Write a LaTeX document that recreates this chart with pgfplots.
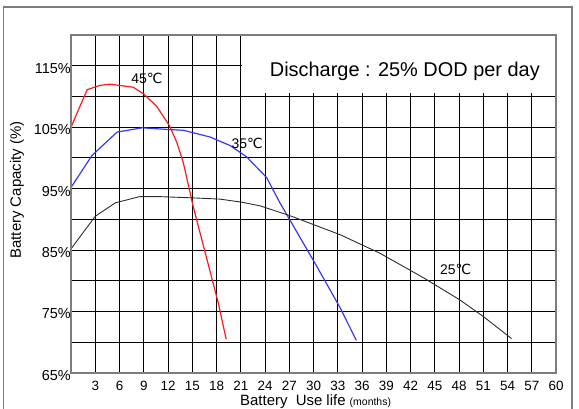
\documentclass[border=0pt]{standalone}
\usepackage{fontspec}
\setmainfont{Liberation Sans}
\newfontfamily\dejavu{DejaVu Sans}
\usepackage{pgfplots}
\pgfplotsset{compat=1.18}

\definecolor{framegray}{RGB}{125,125,125}
\definecolor{curvered}{RGB}{255,25,25}
\definecolor{curveblue}{RGB}{55,55,255}
\definecolor{curveblack}{RGB}{45,45,45}

\newcommand{\degc}{{\dejavu\char"2103}}

\begin{document}
\begin{tikzpicture}[x=1bp,y=1bp]
% outer frame
\draw[framegray, line width=1.5bp] (3.5,-10) rectangle (572,401);

\begin{axis}[
  at={(71bp,35bp)}, anchor=south west,
  width=485bp, height=338bp, scale only axis,
  xmin=0, xmax=60, ymin=65, ymax=120,
  xtick={3,6,...,60},
  ytick={65,75,...,115},
  minor ytick={70,80,...,110},
  /pgf/number format/assume math mode=true,
  yticklabel={\pgfmathprintnumber{\tick}\%},
  grid=both,
  major grid style={black, line width=1bp},
  minor grid style={black, line width=1bp},
  major tick length=0pt, minor tick length=0pt,
  axis line style={draw=none},
  clip=false,
  yticklabel style={anchor=east, inner sep=0pt, yshift=-2.5bp,
    font=\fontsize{14.5}{16}\selectfont},
  xticklabel style={anchor=north, inner sep=0pt, yshift=-8bp,
    font=\fontsize{13.5}{15}\selectfont},
]

% white box behind the caption in the upper right
\fill[white] (axis cs:21.12,110.6) rectangle (axis cs:60,120);

% 45 C
\addplot[curvered, line width=1.2bp] coordinates {
(0,105) (2,111.1) (3.6,111.8) (4.8,112) (7.7,111.5) (9,110.4) (10.6,108.4)
(12.2,105.2) (13.1,102.5) (13.9,99.2) (15.1,92.2) (16.4,85.6) (18.2,76.5) (19.2,70.5)
};
% 35 C
\addplot[curveblue, line width=1.2bp] coordinates {
(0,95.2) (2.6,100.4) (5.7,104.2) (8.8,104.9) (12.3,104.6) (13.9,104.5) (17.2,103.4)
(19.7,102) (21.7,100.2) (24.2,96.8) (25.8,92.8) (30.3,82.6) (33.3,75.6) (35.3,70.3)
};
% 25 C
\addplot[curveblack, line width=0.9bp] coordinates {
(0,85.2) (3,90.5) (5.5,92.7) (8.5,93.7) (11,93.7) (15,93.5) (18.4,93.3) (21.1,92.8)
(23.4,92.2) (27.3,90.5) (33.3,87.5) (36.4,85.6) (38.2,84.5) (43.6,80.5) (48.1,76.9)
(51,74.2) (54.5,70.6)
};

\draw[framegray, line width=1.6bp] (rel axis cs:0,0) rectangle (rel axis cs:1,1);

\node[anchor=base, inner sep=0pt, font=\fontsize{14}{16}\selectfont] at (axis cs:9.4,112.15) {45\degc};
\node[anchor=base, inner sep=0pt, font=\fontsize{14}{16}\selectfont] at (axis cs:21.8,101.6) {35\degc};
\node[anchor=base, inner sep=0pt, font=\fontsize{14}{16}\selectfont] at (axis cs:47.6,80.95) {25\degc};
\node[anchor=base, inner sep=0pt, font=\fontsize{20}{22}\selectfont] at (axis cs:41.3,113.2) {Discharge : 25\% DOD per day};
\end{axis}

\node[rotate=90, inner sep=0pt, font=\fontsize{15}{17}\selectfont] at (17,218) {Battery Capacity (\%)};
\node[anchor=base west, inner sep=0pt, font=\fontsize{15}{17}\selectfont] at (240,3)
  {Battery\hspace{0.55em}Use life {\fontsize{10.5}{12}\selectfont(months)}};

\pgfresetboundingbox
\useasboundingbox (0,0) rectangle (579,408);
\end{tikzpicture}
\end{document}
